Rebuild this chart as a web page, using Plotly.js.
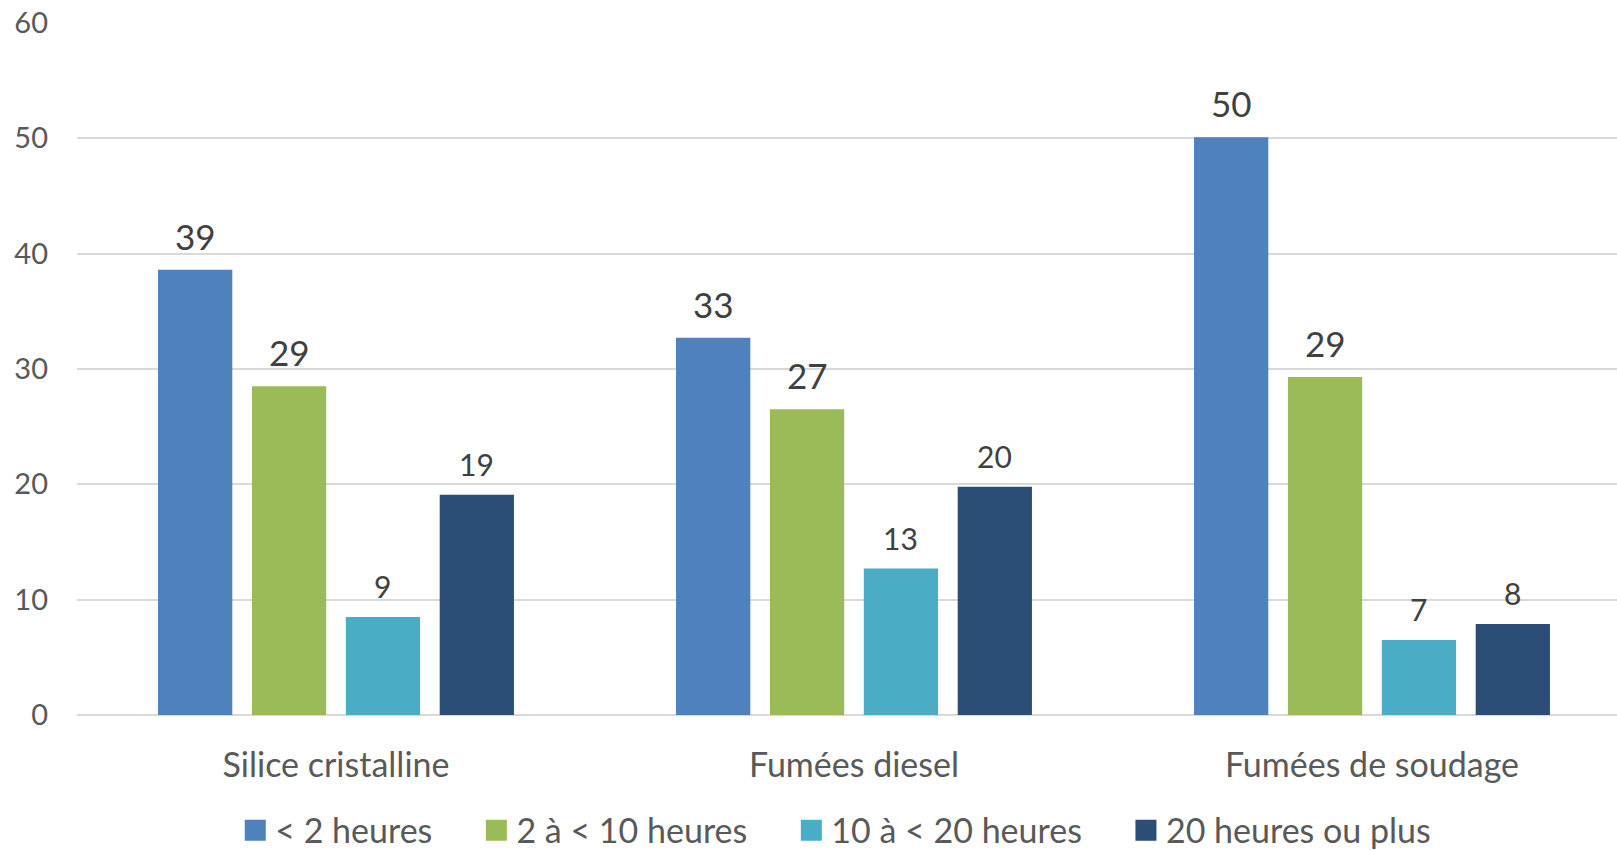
<!DOCTYPE html>
<html><head><meta charset="utf-8">
<script src="https://cdn.plot.ly/plotly-3.0.1.min.js"></script>
<style>html,body{margin:0;padding:0;background:#fff;}#chart{width:1617px;height:851px;}</style>
</head><body><div id="chart"></div>
<script>
const categories = ["Silice cristalline", "Fumées diesel", "Fumées de soudage"];
const seriesNames = ["< 2 heures", "2 à < 10 heures", "10 à < 20 heures", "20 heures ou plus"];
const lessThan2 = [38.6, 32.7, 50.1];
const from2to10 = [28.5, 26.5, 29.3];
const from10to20 = [8.5, 12.7, 6.5];
const over20 = [19.1, 19.8, 7.9];
const yTicks = [0, 10, 20, 30, 40, 50, 60];

const seriesValues = [lessThan2, from2to10, from10to20, over20];
const colors = ["#4F81BD", "#9BBB59", "#4BACC6", "#2C4D75"];
const labelSizes = [35, 35, 30, 30];
const FONT = "Lato, 'Open Sans', sans-serif";
const legendPad = "\u00a0".repeat(4) + "\u2009";

const W = 1617, H = 851;
const margin = {l: 77, r: 0, t: 23, b: 136, autoexpand: false};
const xRange = [-0.5, 2.473];
const bargap = 0.275, bargroupgap = 0.209;
const plotW = W - margin.l - margin.r;
const catPx = plotW / (xRange[1] - xRange[0]);
const slotPx = (1 - bargap) / seriesValues.length * catPx;

const traces = seriesValues.map((vals, i) => ({
  type: "bar",
  name: seriesNames[i] + (i < seriesValues.length - 1 ? legendPad : ""),
  x: categories, y: vals,
  marker: {color: colors[i]}, hoverinfo: "skip"
}));

const annotations = [];
seriesValues.forEach((vals, i) => {
  vals.forEach((v, j) => {
    annotations.push({
      x: categories[j], y: v, xref: "x", yref: "y",
      text: v.toFixed(0),
      showarrow: false, yanchor: "bottom",
      xshift: (i - (seriesValues.length - 1) / 2) * slotPx,
      yshift: 11,
      font: {family: FONT, size: labelSizes[i], color: "#404040"}
    });
  });
});

const layout = {
  width: W, height: H, margin: margin,
  paper_bgcolor: "#fff", plot_bgcolor: "#fff",
  barmode: "group", bargap: bargap, bargroupgap: bargroupgap,
  font: {family: FONT, color: "#595959"},
  showlegend: true,
  legend: {orientation: "h", x: 0.4927, xanchor: "center", y: -0.167, yanchor: "middle",
           font: {family: FONT, size: 34, color: "#595959"}, itemwidth: 30, traceorder: "normal"},
  xaxis: {range: xRange, showgrid: false, zeroline: false, showline: false, ticks: "",
          tickfont: {family: FONT, size: 34, color: "#595959"}, ticklabelstandoff: 27, fixedrange: true},
  yaxis: {range: [0, 60], tickvals: yTicks, showgrid: true, gridcolor: "#d9d9d9", gridwidth: 2,
          zeroline: true, zerolinecolor: "#d9d9d9", zerolinewidth: 2, showline: false, ticks: "",
          tickfont: {family: FONT, size: 29, color: "#595959"}, ticklabelstandoff: 28, fixedrange: true},
  annotations: annotations
};

function enlargeLegendSymbols(gd) {
  gd.querySelectorAll(".legendpoints path").forEach(p => {
    if (p.dataset.scaled) return;
    const t = p.getAttribute("transform") || "";
    p.setAttribute("transform", (t + " scale(1.75)").trim());
    p.dataset.scaled = "1";
  });
}

Plotly.newPlot("chart", traces, layout, {displayModeBar: false, staticPlot: true}).then(enlargeLegendSymbols);
</script></body></html>
